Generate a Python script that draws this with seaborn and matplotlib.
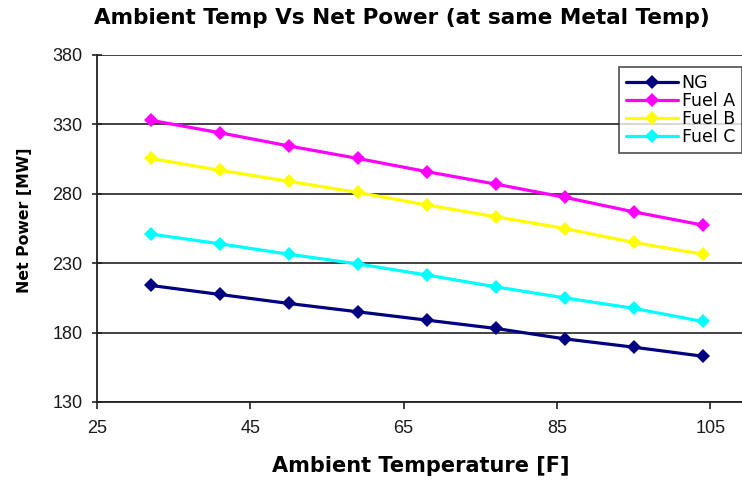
import matplotlib
matplotlib.use("Agg")
import matplotlib.pyplot as plt
import seaborn as sns
import pandas as pd

ambient_temp = [32, 41, 50, 59, 68, 77, 86, 95, 104]
ng = [214, 207.5, 201, 195, 189, 183, 175.5, 169.5, 163]
fuel_a = [333, 324, 314.5, 305.5, 296, 287, 277.5, 267, 257.5]
fuel_b = [305.5, 297, 289, 281, 272, 263.5, 255, 245, 236.5]
fuel_c = [251, 244, 236.5, 229.5, 221.5, 213, 205, 197.5, 188]
series_names = ["NG", "Fuel A", "Fuel B", "Fuel C"]
colors = ["#000080", "#FF00FF", "#FFFF00", "#00FFFF"]
x_ticks = [25, 45, 65, 85, 105]
y_ticks = [130, 180, 230, 280, 330, 380]

rows = []
for name, vals in zip(series_names, [ng, fuel_a, fuel_b, fuel_c]):
    for t, v in zip(ambient_temp, vals):
        rows.append({"Ambient": t, "Power": v, "Fuel": name})
df = pd.DataFrame(rows)

sns.set_style("white")
plt.rcParams["font.family"] = ["Liberation Sans", "DejaVu Sans"]
plt.rcParams["text.color"] = "black"

fig = plt.figure(figsize=(7.42, 4.80), dpi=100)
W, H = 742, 480
ax = fig.add_axes([97 / W, 1 - 402 / H, (745 - 97) / W, (402 - 55) / H])

sns.lineplot(data=df, x="Ambient", y="Power", hue="Fuel", hue_order=series_names,
             palette=dict(zip(series_names, colors)), marker="D", markersize=7.5,
             markeredgewidth=0, linewidth=2.3, ax=ax, legend=True)

ax.set_xlim(25, 25 + (745 - 97) / 7.666)
ax.set_ylim(130, 380)
ax.set_xticks(x_ticks)
ax.set_yticks(y_ticks)
ax.yaxis.grid(True, color="#222222", linewidth=1.2)
ax.set_axisbelow(True)
for s in ["top", "right"]:
    ax.spines[s].set_visible(False)
for s in ["left", "bottom"]:
    ax.spines[s].set_color("#222222")
    ax.spines[s].set_linewidth(1.3)
ax.tick_params(axis="x", direction="out", length=5, width=1.2, color="#222222",
               labelsize=13, labelcolor="#1a1a1a", pad=8)
ax.tick_params(axis="y", direction="inout", length=7, width=1.2, color="#222222",
               labelsize=13, labelcolor="#1a1a1a", pad=7)
ax.tick_params(bottom=True, left=True)

bold = ["DejaVu Sans"]
ax.set_xlabel("")
ax.set_ylabel("")
fig.text(421 / W, 1 - 466 / H, "Ambient Temperature [F]", ha="center", va="center",
         fontsize=15, fontweight="bold", family=bold, color="black")
fig.text(25 / W, 1 - 220 / H, "Net Power [MW]", ha="center", va="center",
         rotation=90, fontsize=11.3, fontweight="bold", family=bold, color="black")
fig.text(402 / W, 1 - 18 / H, "Ambient Temp Vs Net Power (at same Metal Temp)",
         ha="center", va="center", fontsize=15.5, fontweight="bold", family=bold,
         color="black")

handles, labels = ax.get_legend_handles_labels()
ax.get_legend().remove()
leg = fig.legend(handles, labels, loc="upper left",
                 bbox_to_anchor=(619 / W, 1 - 67 / H), frameon=True, fancybox=False,
                 prop={"family": "DejaVu Sans", "size": 12.5},
                 handlelength=3.0, handletextpad=0.2, labelspacing=0.0,
                 borderpad=0.4, borderaxespad=0, labelcolor="black")
leg.get_frame().set_edgecolor("#222222")
leg.get_frame().set_linewidth(1.2)

fig.savefig("out.png", dpi=100)
